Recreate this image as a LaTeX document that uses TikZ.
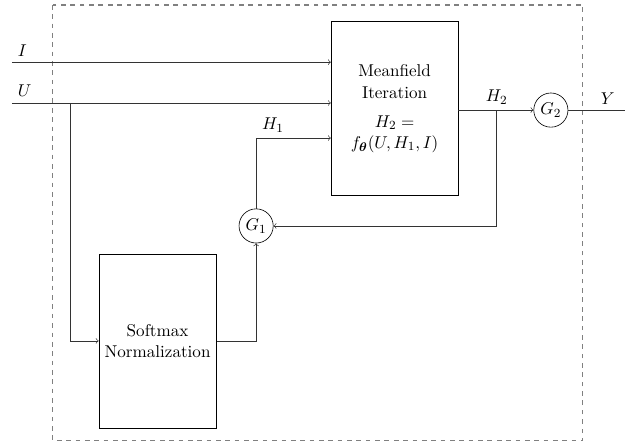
\documentclass[11pt,tikz,border=0pt]{standalone}
\usepackage{amsmath,amssymb}
\usepackage{xcolor}
\usepackage{tikz}
\usetikzlibrary{arrows,positioning,calc}

\begin{document}
\begin{tikzpicture}[
    block/.style={draw,rectangle,align=center,minimum width=2.64cm,minimum height=3.92cm},
    gate/.style={draw,circle,minimum size=0.77cm,inner sep=0pt},
    conn/.style={->,draw=black!80}
]
            \useasboundingbox (0,0) rectangle (14.08,-10.02);

            % Outer frame
            \draw[dashed,gray,thick] (1.19,-0.11) rectangle (13.13,-9.93);

            % Blocks
            \node[block,minimum width=2.86cm] (mf) at (8.89,-2.45) {Meanfield\\Iteration\\[5pt]$H_2 =$\\$f_{\boldsymbol{\theta}}(U, H_1, I)$};
            \node[block] (sm) at (3.55,-7.68) {Softmax\\Normalization};

            % Gates
            \node[gate] (g1) at (5.77,-5.09) {$G_1$};
            \node[gate] (g2) at (12.41,-2.48) {$G_2$};

            % Inputs and outputs
            \coordinate (iin) at (0.27,-1.40);
            \coordinate (uin) at (0.27,-2.32);
            \coordinate (usplit) at (1.58,-2.32);
            \coordinate (h1) at (5.77,-3.11);
            \coordinate (h2split) at (11.19,-2.48);
            \coordinate (yout) at (14.08,-2.48);

            \draw[conn] (iin) node[above right] {$I$} -- (iin -| mf.west);
            \draw[conn] (uin) node[above right] {$U$} -- (uin -| mf.west);
            \draw[conn] (usplit) |- (sm.west);
            \draw[conn] (sm.east) -| (g1.south);
            \draw[conn] (g1.north) -- (h1) node[above right] {$H_1$} -- (h1 -| mf.west);
            \draw[conn] (mf.east |- g2) -- (g2.west);
            \node[above] at (h2split) {$H_2$};
            \draw[conn] (h2split) |- (g1.east);
            \draw[draw=black!80] (g2.east) -- (yout);
            \node[above] at (13.69,-2.48) {$Y$};
        \end{tikzpicture}
\end{document}
